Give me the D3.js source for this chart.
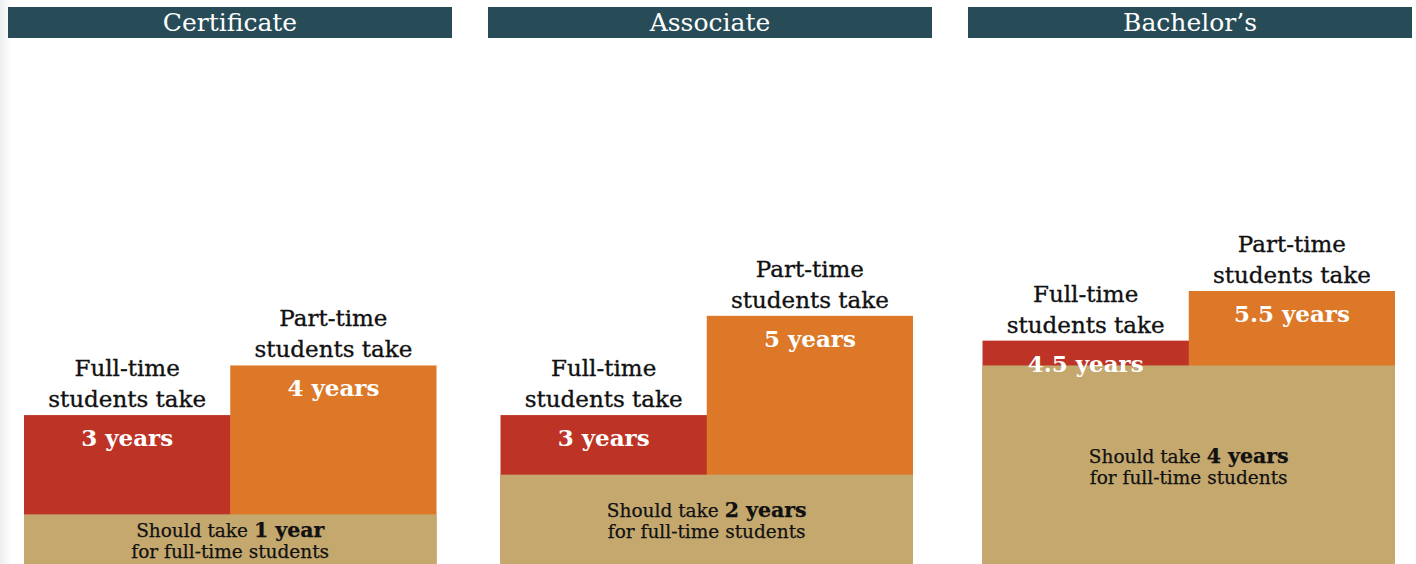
<!DOCTYPE html>
<html><head><meta charset="utf-8">
<script src="https://cdn.jsdelivr.net/npm/d3@7"></script>
<style>html,body{margin:0;padding:0;background:#fff;}svg{display:block;}</style>
</head><body>
<script>
const degrees = ["Certificate", "Associate", "Bachelor’s"];
const shouldTake = [1, 1.8, 4];            // tan base height as drawn
const shouldLabels = ["1 year", "2 years", "4 years"];
const fullTime = [3, 3, 4.5];
const partTime = [4, 5, 5.5];
const fullLabels = ["3 years", "3 years", "4.5 years"];
const partLabels = ["4 years", "5 years", "5.5 years"];

const W = 1416, H = 564;
const svg = d3.select("body").append("svg").attr("width", W).attr("height", H);
const font = "'DejaVu Serif', serif";

const defs = svg.append("defs");
const g0 = defs.append("linearGradient").attr("id", "shade").attr("x1", 0).attr("x2", 1);
g0.append("stop").attr("offset", 0).attr("stop-color", "#eceef0");
g0.append("stop").attr("offset", 1).attr("stop-color", "#ffffff");
svg.append("rect").attr("x", 0).attr("y", 0).attr("width", 12).attr("height", H).attr("fill", "url(#shade)");

const panelX = d3.scaleBand().domain(degrees).range([8, 1412]).paddingInner(0.075);
const y = d3.scaleLinear().domain([0, 5.5]).range([564, 291]);
const inner = d3.scaleBand().domain(["full", "part"]).paddingInner(0).paddingOuter(0);
const insetL = [16, 12.5, 14.5];

degrees.forEach((d, i) => {
  const px = panelX(d), pw = panelX.bandwidth();
  const g = svg.append("g");
  // header
  g.append("rect").attr("x", px).attr("y", 7).attr("width", pw).attr("height", 31).attr("fill", "#274c57");
  g.append("text").attr("x", px + pw / 2).attr("y", 31).attr("text-anchor", "middle")
    .attr("fill", "#fff").attr("font-family", font).attr("font-size", 25).text(d);

  const x0 = px + insetL[i], x1 = x0 + 412.5;
  inner.range([x0, x1]);
  const bw = inner.bandwidth();
  const bars = [
    { k: "full", v: fullTime[i], lab: fullLabels[i], col: "#bd3426", l1: "Full-time" },
    { k: "part", v: partTime[i], lab: partLabels[i], col: "#dc7828", l1: "Part-time" }
  ];
  bars.forEach(b => {
    g.append("rect").attr("x", inner(b.k)).attr("y", y(b.v)).attr("width", bw + (b.k === "full" ? 0.5 : 0))
      .attr("height", y(0) - y(b.v)).attr("fill", b.col);
  });
  // tan base
  g.append("rect").attr("x", x0).attr("y", y(shouldTake[i])).attr("width", x1 - x0)
    .attr("height", y(0) - y(shouldTake[i]) + 10).attr("fill", "#c4a86e");

  bars.forEach(b => {
    const cx = inner(b.k) + bw / 2;
    const t = g.append("text").attr("text-anchor", "middle").attr("font-family", font)
      .attr("font-size", 23).attr("fill", "#111").attr("stroke", "#111").attr("stroke-width", 0.35);
    t.append("tspan").attr("x", cx).attr("y", y(b.v) - 39).text(b.l1);
    t.append("tspan").attr("x", cx).attr("y", y(b.v) - 8).text("students take");
    g.append("text").attr("x", cx).attr("y", y(b.v) + 31).attr("text-anchor", "middle")
      .attr("font-family", font).attr("font-weight", "bold").attr("font-size", 23)
      .attr("fill", "#fff").text(b.lab);
  });

  const cy = (y(shouldTake[i]) + 572) / 2;
  const cx = (x0 + x1) / 2;
  const t = g.append("text").attr("text-anchor", "middle").attr("font-family", font)
    .attr("font-size", 18.5).attr("fill", "#111").attr("stroke", "#111").attr("stroke-width", 0.25);
  const l1 = t.append("tspan").attr("x", cx).attr("y", cy - 6);
  l1.append("tspan").text("Should take ");
  l1.append("tspan").attr("font-weight", "bold").attr("font-size", 20.5).text(shouldLabels[i]);
  t.append("tspan").attr("x", cx).attr("y", cy + 15).text("for full-time students");
});
</script>
</body></html>
